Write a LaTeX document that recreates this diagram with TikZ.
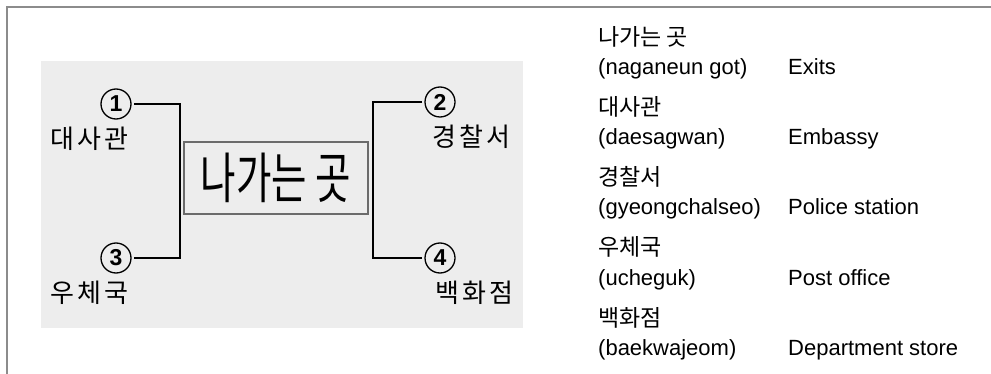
\documentclass[tikz,border=0pt]{standalone}
\usepackage{fontspec}
\usepackage{graphicx}
\setmainfont{Liberation Sans}
\newfontfamily\kor{Noto Sans CJK KR}
\newfontfamily\korwide[LetterSpace=12]{Noto Sans CJK KR}
\usetikzlibrary{positioning}

\begin{document}
\begin{tikzpicture}[
    x=1pt, y=-1pt,
    node distance=35pt,
    frame/.style={draw=black!45, line width=2pt},
    panel/.style={fill=black!7},
    exitbox/.style={rectangle, draw=black!58, line width=2.5pt, fill=black!7, minimum width=184pt, minimum height=72pt, inner sep=0pt, font=\kor\fontsize{55}{55}\selectfont},
    numcirc/.style={circle, draw=black, line width=1.3pt, minimum size=30pt, inner sep=0pt, outer sep=3pt, font=\fontsize{23}{23}\selectfont\bfseries},
    place/.style={inner sep=0pt, font=\korwide\fontsize{26}{26}\selectfont},
    link/.style={draw=black, line width=1.8pt},
    korword/.style={anchor=base west, inner sep=0pt, font=\kor\fontsize{23}{23}\selectfont},
    gloss/.style={anchor=base west, inner sep=0pt, font=\fontsize{22}{22}\selectfont}
]
\useasboundingbox (0,0) rectangle (991,374);

% Frame and sign panel
\draw [frame] (7,374) -- (7,7) -- (991,7);
\fill [panel] (41,61) rectangle (523,328);

% Sign
\node (exits) [exitbox] at (276,178) {\scalebox{0.7}[1]{나가는 곳}};

\node (c1) [numcirc] at (116,104) {1};
\node (c3) [numcirc] at (116,258) {3};
\node (c2) [numcirc] at (440,102) {2};
\node (c4) [numcirc] at (440,258) {4};

\node (embassy) [place, below of=c1, xshift=-27pt] {대사관};
\node (post) [place, below of=c3, xshift=-27pt] {우체국};
\node (police) [place, below of=c2, xshift=31pt] {경찰서};
\node (store) [place, below of=c4, xshift=34pt] {백화점};

% Sign lines
\draw [link] (c1.east) -| ([xshift=-3pt]exits.west) |- (c3.east);
\draw [link] (c2.west) -| ([xshift=4pt]exits.east) |- (c4.west);

% Glossary
\node (kor1) [korword] at (598,46) {나가는 곳};
\node (rom1) [gloss] at (598,75) {(naganeun got)};
\node (eng1) [gloss] at (788,75) {Exits};

\node (kor2) [korword] at (598,116) {대사관};
\node (rom2) [gloss] at (598,145) {(daesagwan)};
\node (eng2) [gloss] at (788,145) {Embassy};

\node (kor3) [korword] at (598,186) {경찰서};
\node (rom3) [gloss] at (598,215) {(gyeongchalseo)};
\node (eng3) [gloss] at (788,215) {Police station};

\node (kor4) [korword] at (598,256) {우체국};
\node (rom4) [gloss] at (598,285) {(ucheguk)};
\node (eng4) [gloss] at (788,285) {Post office};

\node (kor5) [korword] at (598,326) {백화점};
\node (rom5) [gloss] at (598,355) {(baekwajeom)};
\node (eng5) [gloss] at (788,355) {Department store};

\end{tikzpicture}
\end{document}
